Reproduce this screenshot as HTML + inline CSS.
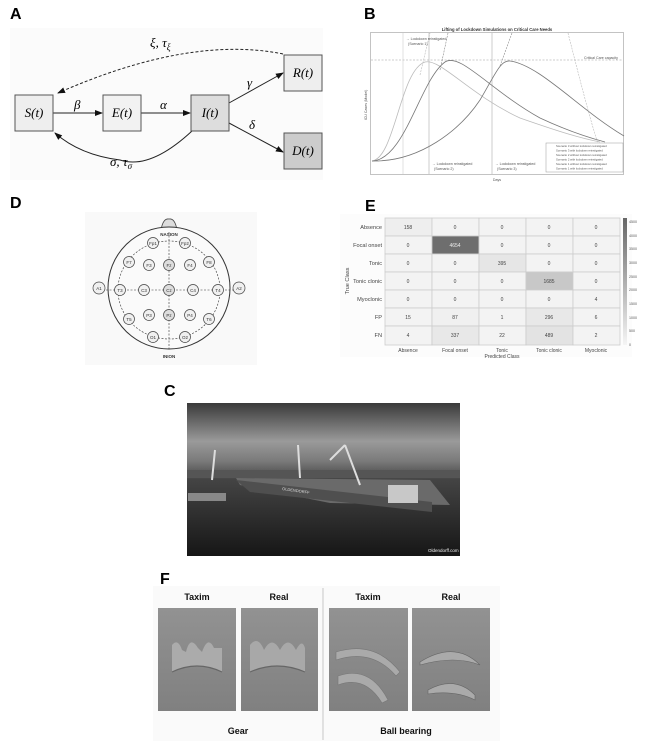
<!DOCTYPE html>
<html><head><meta charset="utf-8"><style>
html,body{margin:0;padding:0;background:#fff;}
svg{display:block;font-family:"Liberation Sans",sans-serif;}
.lbl{font-weight:bold;font-size:16px;}
.m{font-family:"Liberation Serif",serif;font-style:italic;font-size:13px;}
.s{font-size:3.6px;fill:#555;}
.h{font-size:5.6px;fill:#444;}
.e{font-size:5px;fill:#444;text-anchor:middle;}
</style></head><body>
<svg width="650" height="746" viewBox="0 0 650 746" xmlns="http://www.w3.org/2000/svg">
<defs>
<marker id="ar" markerWidth="8" markerHeight="8" refX="7" refY="4" orient="auto" markerUnits="userSpaceOnUse"><path d="M0,1 L8,4 L0,7z" fill="#111"/></marker>
<linearGradient id="sky" x1="0" y1="0" x2="0" y2="1"><stop offset="0" stop-color="#3a3a3a"/><stop offset="0.25" stop-color="#9a9a9a"/><stop offset="0.38" stop-color="#7a7a7a"/><stop offset="0.5" stop-color="#444"/><stop offset="1" stop-color="#161616"/></linearGradient>
<linearGradient id="pl" x1="0" y1="0" x2="0" y2="1"><stop offset="0" stop-color="#929292"/><stop offset="1" stop-color="#808080"/></linearGradient>
</defs>

<!-- A -->
<text x="10" y="19" class="lbl">A</text>
<rect x="10" y="28" width="313" height="152" fill="#fbfbfb"/>
<path d="M283,54 Q190,35 58,93" fill="none" stroke="#222" stroke-dasharray="3,2" marker-end="url(#ar)"/>
<text x="150" y="47" class="m">ξ, τ<tspan font-size="9" dy="3">ξ</tspan></text>
<line x1="53" y1="113" x2="102" y2="113" stroke="#222" marker-end="url(#ar)"/>
<line x1="141" y1="113" x2="190" y2="113" stroke="#222" marker-end="url(#ar)"/>
<line x1="229" y1="103" x2="283" y2="73" stroke="#222" marker-end="url(#ar)"/>
<line x1="229" y1="123" x2="283" y2="152" stroke="#222" marker-end="url(#ar)"/>
<path d="M192,131 Q150,170 120,160 Q80,155 55,133" fill="none" stroke="#222" marker-end="url(#ar)"/>
<text x="74" y="109" class="m">β</text><text x="160" y="109" class="m">α</text>
<text x="247" y="87" class="m">γ</text><text x="249" y="129" class="m">δ</text>
<text x="110" y="166" class="m">σ, τ<tspan font-size="9" dy="3">σ</tspan></text>
<rect x="15" y="95" width="38" height="36" fill="#eee" stroke="#555"/>
<rect x="103" y="95" width="38" height="36" fill="#f2f2f2" stroke="#555"/>
<rect x="191" y="95" width="38" height="36" fill="#ddd" stroke="#555"/>
<rect x="284" y="55" width="38" height="36" fill="#eee" stroke="#555"/>
<rect x="284" y="133" width="38" height="36" fill="#ccc" stroke="#555"/>
<text x="34" y="117" class="m" text-anchor="middle">S(t)</text>
<text x="122" y="117" class="m" text-anchor="middle">E(t)</text>
<text x="210" y="117" class="m" text-anchor="middle">I(t)</text>
<text x="303" y="77" class="m" text-anchor="middle">R(t)</text>
<text x="303" y="155" class="m" text-anchor="middle">D(t)</text>

<!-- B -->
<text x="364" y="19" class="lbl">B</text>
<text x="497" y="31" font-size="4.2" font-weight="bold" text-anchor="middle" fill="#333">Lifting of Lockdown Simulations on Critical Care Needs</text>
<rect x="370.5" y="32.5" width="253" height="142" fill="#fff" stroke="#aaa" stroke-width="0.7"/>
<line x1="371" y1="60" x2="623" y2="60" stroke="#999" stroke-dasharray="2,1.5" stroke-width="0.6"/>
<line x1="403" y1="33" x2="403" y2="174" stroke="#ccc" stroke-width="0.6"/>
<line x1="429" y1="33" x2="429" y2="174" stroke="#aaa" stroke-width="0.6"/>
<line x1="492" y1="33" x2="492" y2="174" stroke="#aaa" stroke-width="0.6"/>
<path d="M372,161 C395,158 400,70 425,62 C440,58 470,95 520,118 C560,132 580,138 600,142" fill="none" stroke="#bbb" stroke-width="0.8"/>
<path d="M372,161 C405,160 420,80 445,62 C460,52 490,90 540,118 C570,132 590,138 605,142" fill="none" stroke="#777" stroke-width="0.8"/>
<path d="M372,161 C420,162 460,130 480,100 C495,75 500,60 510,61 C540,65 580,110 624,136" fill="none" stroke="#777" stroke-width="0.8"/>
<path d="M420,75 L430,33" stroke="#bbb" stroke-dasharray="2,1" stroke-width="0.6"/>
<path d="M440,70 L448,33" stroke="#888" stroke-dasharray="2,1" stroke-width="0.6"/>
<path d="M500,66 L512,33" stroke="#888" stroke-dasharray="2,1" stroke-width="0.6"/>
<path d="M568,33 C580,80 590,120 600,150" fill="none" stroke="#bbb" stroke-dasharray="2,1" stroke-width="0.6"/>
<text x="406" y="40" class="s">→ Lockdown reinstigated</text><text x="408" y="45" class="s">(Scenario 1)</text>
<text x="432" y="165" class="s">→ Lockdown reinstigated</text><text x="434" y="170" class="s">(Scenario 2)</text>
<text x="495" y="165" class="s">→ Lockdown reinstigated</text><text x="497" y="170" class="s">(Scenario 3)</text>
<text x="584" y="59" class="s">Critical Care capacity</text>
<text x="367" y="105" class="s" transform="rotate(-90 367 105)" text-anchor="middle">ICU Cases (Model)</text>
<text x="497" y="181" class="s" text-anchor="middle">Days</text>
<rect x="546" y="143" width="77" height="29" fill="#fff" stroke="#999" stroke-width="0.5"/>
<g font-size="2.8" fill="#555">
<text x="556" y="147">Scenario 3 without lockdown reinstigated</text>
<text x="556" y="151.5">Scenario 3 with lockdown reinstigated</text>
<text x="556" y="156">Scenario 2 without lockdown reinstigated</text>
<text x="556" y="160.5">Scenario 2 with lockdown reinstigated</text>
<text x="556" y="165">Scenario 1 without lockdown reinstigated</text>
<text x="556" y="169.5">Scenario 1 with lockdown reinstigated</text>
</g>

<!-- D -->
<text x="10" y="208" class="lbl">D</text>
<rect x="85" y="212" width="172" height="153" fill="#f9f9f9"/>
<path d="M161,230 Q163,218 169,219 Q175,218 177,230" fill="#ddd" stroke="#444" stroke-width="0.8"/>
<circle cx="169" cy="288" r="61" fill="#fafafa" stroke="#333" stroke-width="1"/>
<g fill="none" stroke="#333" stroke-width="0.6" stroke-dasharray="2,1.5">
<ellipse cx="169" cy="290" rx="51" ry="49"/>
<line x1="169" y1="232" x2="169" y2="350"/>
<line x1="99" y1="290" x2="239" y2="290"/>
</g>
<g fill="#f0f0f0" stroke="#444" stroke-width="0.7">
<circle cx="99" cy="288" r="6"/><circle cx="239" cy="288" r="6"/>
<circle cx="153" cy="243" r="5.5"/><circle cx="185" cy="243" r="5.5"/>
<circle cx="129" cy="262" r="5.5"/><circle cx="149" cy="265" r="5.5"/><circle cx="169" cy="265" r="5.5" fill="#ddd"/><circle cx="190" cy="265" r="5.5"/><circle cx="209" cy="262" r="5.5"/>
<circle cx="120" cy="290" r="5.5"/><circle cx="144" cy="290" r="5.5"/><circle cx="169" cy="290" r="5.5" fill="#ddd"/><circle cx="193" cy="290" r="5.5"/><circle cx="218" cy="290" r="5.5"/>
<circle cx="129" cy="319" r="5.5"/><circle cx="149" cy="315" r="5.5"/><circle cx="169" cy="315" r="5.5" fill="#ddd"/><circle cx="190" cy="315" r="5.5"/><circle cx="209" cy="319" r="5.5"/>
<circle cx="153" cy="337" r="5.5"/><circle cx="185" cy="337" r="5.5"/>
</g>
<g font-size="4.5" fill="#333" text-anchor="middle">
<text x="169" y="236" font-weight="bold">NASION</text><text x="169" y="358" font-weight="bold">INION</text>
<text x="99" y="290">A1</text><text x="239" y="290">A2</text>
<text x="153" y="245">Fp1</text><text x="185" y="245">Fp2</text>
<text x="129" y="264">F7</text><text x="149" y="267">F3</text><text x="169" y="267">Fz</text><text x="190" y="267">F4</text><text x="209" y="264">F8</text>
<text x="120" y="292">T3</text><text x="144" y="292">C3</text><text x="169" y="292">Cz</text><text x="193" y="292">C4</text><text x="218" y="292">T4</text>
<text x="129" y="321">T5</text><text x="149" y="317">P3</text><text x="169" y="317">Pz</text><text x="190" y="317">P4</text><text x="209" y="321">T6</text>
<text x="153" y="339">O1</text><text x="185" y="339">O2</text>
</g>

<!-- E -->
<text x="365" y="211" class="lbl">E</text>
<rect x="340" y="214" width="292" height="143" fill="#fcfcfc"/>
<g stroke="#ccc" stroke-width="0.8">
<rect x="385" y="218" width="47" height="18" fill="#eee"/><rect x="432" y="218" width="47" height="18" fill="#f3f3f3"/><rect x="479" y="218" width="47" height="18" fill="#f3f3f3"/><rect x="526" y="218" width="47" height="18" fill="#f3f3f3"/><rect x="573" y="218" width="47" height="18" fill="#f3f3f3"/>
<rect x="385" y="236" width="47" height="18" fill="#f3f3f3"/><rect x="432" y="236" width="47" height="18" fill="#6e6e6e"/><rect x="479" y="236" width="47" height="18" fill="#f3f3f3"/><rect x="526" y="236" width="47" height="18" fill="#f3f3f3"/><rect x="573" y="236" width="47" height="18" fill="#f3f3f3"/>
<rect x="385" y="254" width="47" height="18" fill="#f3f3f3"/><rect x="432" y="254" width="47" height="18" fill="#f3f3f3"/><rect x="479" y="254" width="47" height="18" fill="#e6e6e6"/><rect x="526" y="254" width="47" height="18" fill="#f3f3f3"/><rect x="573" y="254" width="47" height="18" fill="#f3f3f3"/>
<rect x="385" y="272" width="47" height="18" fill="#f3f3f3"/><rect x="432" y="272" width="47" height="18" fill="#f3f3f3"/><rect x="479" y="272" width="47" height="18" fill="#f3f3f3"/><rect x="526" y="272" width="47" height="18" fill="#c8c8c8"/><rect x="573" y="272" width="47" height="18" fill="#f3f3f3"/>
<rect x="385" y="290" width="47" height="18" fill="#f3f3f3"/><rect x="432" y="290" width="47" height="18" fill="#f3f3f3"/><rect x="479" y="290" width="47" height="18" fill="#f3f3f3"/><rect x="526" y="290" width="47" height="18" fill="#f3f3f3"/><rect x="573" y="290" width="47" height="18" fill="#f3f3f3"/>
<rect x="385" y="308" width="47" height="18" fill="#f3f3f3"/><rect x="432" y="308" width="47" height="18" fill="#f0f0f0"/><rect x="479" y="308" width="47" height="18" fill="#f3f3f3"/><rect x="526" y="308" width="47" height="18" fill="#e8e8e8"/><rect x="573" y="308" width="47" height="18" fill="#f3f3f3"/>
<rect x="385" y="326" width="47" height="19" fill="#f3f3f3"/><rect x="432" y="326" width="47" height="19" fill="#e8e8e8"/><rect x="479" y="326" width="47" height="19" fill="#f3f3f3"/><rect x="526" y="326" width="47" height="19" fill="#e3e3e3"/><rect x="573" y="326" width="47" height="19" fill="#f3f3f3"/>
</g>
<defs><linearGradient id="cb" x1="0" y1="0" x2="0" y2="1"><stop offset="0" stop-color="#666"/><stop offset="1" stop-color="#f5f5f5"/></linearGradient></defs>
<rect x="623" y="218" width="4" height="127" fill="url(#cb)"/>
<g font-size="3.6" fill="#555"><text x="629" y="223">4500</text><text x="629" y="237">4000</text><text x="629" y="250">3500</text><text x="629" y="264">3000</text><text x="629" y="278">2500</text><text x="629" y="291">2000</text><text x="629" y="305">1500</text><text x="629" y="319">1000</text><text x="629" y="332">500</text><text x="629" y="346">0</text></g>
<g class="h" text-anchor="end"><text x="382" y="229">Absence</text><text x="382" y="247">Focal onset</text><text x="382" y="265">Tonic</text><text x="382" y="283">Tonic clonic</text><text x="382" y="301">Myoclonic</text><text x="382" y="319">FP</text><text x="382" y="337">FN</text></g>
<text x="349" y="281" class="h" text-anchor="middle" transform="rotate(-90 349 281)">True Class</text>
<g class="e"><text x="408" y="352">Absence</text><text x="455" y="352">Focal onset</text><text x="502" y="352">Tonic</text><text x="549" y="352">Tonic clonic</text><text x="596" y="352">Myoclonic</text><text x="502" y="358">Predicted Class</text></g>
<g class="e" font-size="5.5">
<text x="408" y="229">158</text><text x="455" y="229">0</text><text x="502" y="229">0</text><text x="549" y="229">0</text><text x="596" y="229">0</text>
<text x="408" y="247">0</text><text x="455" y="247" fill="#eee">4654</text><text x="502" y="247">0</text><text x="549" y="247">0</text><text x="596" y="247">0</text>
<text x="408" y="265">0</text><text x="455" y="265">0</text><text x="502" y="265">395</text><text x="549" y="265">0</text><text x="596" y="265">0</text>
<text x="408" y="283">0</text><text x="455" y="283">0</text><text x="502" y="283">0</text><text x="549" y="283">1685</text><text x="596" y="283">0</text>
<text x="408" y="301">0</text><text x="455" y="301">0</text><text x="502" y="301">0</text><text x="549" y="301">0</text><text x="596" y="301">4</text>
<text x="408" y="319">15</text><text x="455" y="319">87</text><text x="502" y="319">1</text><text x="549" y="319">296</text><text x="596" y="319">6</text>
<text x="408" y="337">4</text><text x="455" y="337">337</text><text x="502" y="337">22</text><text x="549" y="337">489</text><text x="596" y="337">2</text>
</g>

<!-- C -->
<text x="164" y="396" class="lbl">C</text>
<rect x="187" y="403" width="273" height="153" fill="url(#sky)"/>
<path d="M187,470 L460,470 L460,478 L187,478z" fill="#555"/>
<path d="M236,478 L430,480 L450,505 L330,503 L240,485z" fill="#6a6a6a"/>
<path d="M236,480 L432,502 L432,512 L250,492z" fill="#4f4f4f"/>
<rect x="388" y="485" width="30" height="18" fill="#c8c8c8"/>
<rect x="188" y="493" width="38" height="8" fill="#888"/>
<path d="M345,445 L360,485 M345,445 L330,460 M298,445 L300,478 M215,450 L212,480" stroke="#ddd" stroke-width="2" fill="none"/>
<text x="282" y="490" font-size="4" fill="#ddd" transform="rotate(8 282 490)">OLDENDORFF</text>
<text x="428" y="552" font-size="4.5" fill="#eee">Oldendorff.com</text>

<!-- F -->
<text x="160" y="584" class="lbl">F</text>
<rect x="153" y="586" width="347" height="155" fill="#fafafa"/>
<line x1="323" y1="588" x2="323" y2="740" stroke="#bbb" stroke-width="0.8"/>
<g font-weight="bold" font-size="9" fill="#111" text-anchor="middle">
<text x="197" y="600">Taxim</text><text x="279" y="600">Real</text><text x="368" y="600">Taxim</text><text x="451" y="600">Real</text>
<text x="238" y="734">Gear</text><text x="406" y="734">Ball bearing</text>
</g>
<rect x="158" y="608" width="78" height="103" fill="url(#pl)"/>
<rect x="241" y="608" width="77" height="103" fill="url(#pl)"/>
<rect x="329" y="608" width="79" height="103" fill="url(#pl)"/>
<rect x="412" y="608" width="78" height="103" fill="url(#pl)"/>
<path d="M172,672 L172,645 Q178,638 182,650 L186,652 Q190,635 198,648 L202,652 Q208,635 214,648 L222,648 L222,672 Q197,660 172,672z" fill="#ababab"/>
<path d="M172,672 Q197,660 222,672" fill="none" stroke="#666" stroke-width="1.2"/>
<path d="M250,672 L250,645 Q258,635 264,650 Q272,635 280,650 Q288,635 296,650 Q302,638 305,648 L305,672 Q277,660 250,672z" fill="#a8a8a8"/>
<path d="M250,672 Q277,660 305,672" fill="none" stroke="#666" stroke-width="1.2"/>
<path d="M336,652 Q375,640 400,672 L396,676 Q372,648 336,660z" fill="#aaa" stroke="#777" stroke-width="0.6"/>
<path d="M338,676 Q370,665 388,700 L382,703 Q365,675 338,685z" fill="#aaa" stroke="#777" stroke-width="0.6"/>
<path d="M420,662 Q455,640 480,665 Q455,655 420,665z" fill="#aaa" stroke="#666" stroke-width="0.6"/>
<path d="M428,690 Q455,675 475,695 L475,700 Q455,690 428,694z" fill="#aaa" stroke="#666" stroke-width="0.6"/>
</svg>
</body></html>
